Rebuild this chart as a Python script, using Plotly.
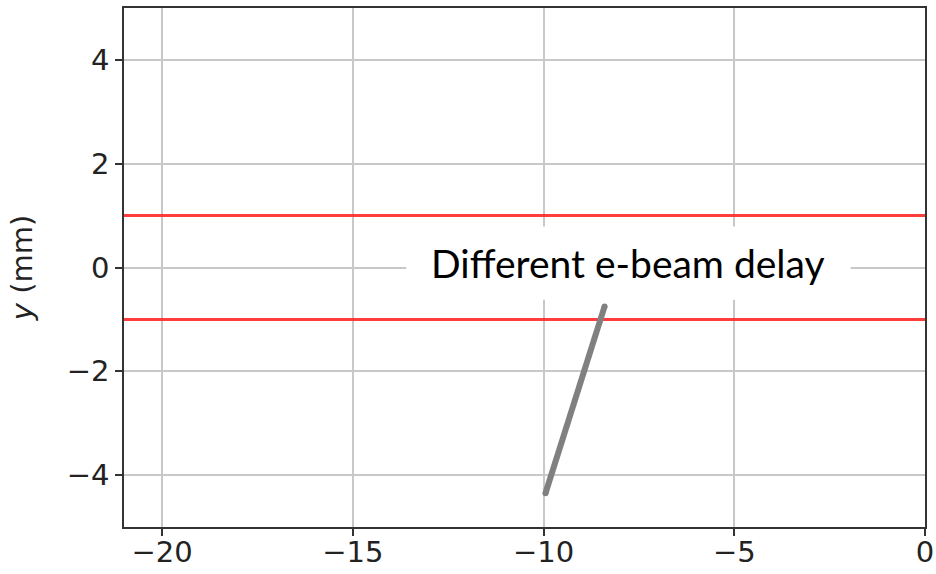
import plotly.graph_objects as go

# Axis extents and ticks
x_range = [-21, 0]
y_range = [-5, 5]
x_ticks = [-20, -15, -10, -5, 0]
y_ticks = [-4, -2, 0, 2, 4]

# Aperture limits (mm)
aperture_y = [1, -1]

# Beam centroid track for different e-beam delays
track_x = [-9.95, -8.4]
track_y = [-4.35, -0.75]

# Label box extent (data units)
label_box_x = [-13.6, -1.95]
label_box_y = [-0.62, 0.79]
label_text = "Different e-beam delay"

fig = go.Figure()

for yv in aperture_y:
    fig.add_trace(go.Scatter(
        x=x_range, y=[yv, yv], mode="lines",
        line=dict(color="rgba(255,40,40,0.9)", width=3),
        showlegend=False, hoverinfo="skip",
    ))

fig.add_trace(go.Scatter(
    x=track_x, y=track_y, mode="lines+markers",
    line=dict(color="#808080", width=6),
    marker=dict(color="#808080", size=6),
    showlegend=False,
))

fig.add_shape(
    type="rect", xref="x", yref="y",
    x0=label_box_x[0], x1=label_box_x[1],
    y0=label_box_y[0], y1=label_box_y[1],
    fillcolor="white", line=dict(width=0), layer="between",
)
fig.add_annotation(
    x=(label_box_x[0] + label_box_x[1]) / 2,
    y=(label_box_y[0] + label_box_y[1]) / 2,
    xref="x", yref="y", text=label_text, showarrow=False,
    font=dict(family="Lato", size=39, color="black"),
)

axis_common = dict(
    showgrid=True, gridcolor="#c8c8c8", gridwidth=1.5,
    showline=True, linecolor="#333333", linewidth=1.5, mirror=True,
    ticks="outside", ticklen=7, tickwidth=1.5, tickcolor="#333333",
    zeroline=False, automargin=False,
    tickfont=dict(family="DejaVu Sans", size=29, color="#222222"),
)

fig.update_xaxes(range=x_range, tickvals=x_ticks,
                 ticktext=[str(v).replace("-", "\u2212") for v in x_ticks],
                 ticklabelstandoff=-9,
                 **axis_common)
fig.update_yaxes(range=y_range, tickvals=y_ticks,
                 ticktext=[str(v).replace("-", "\u2212") for v in y_ticks],
                 title=dict(text="<i>y</i> (mm)", standoff=26,
                            font=dict(family="DejaVu Sans", size=29, color="#222222")),
                 **axis_common)

fig.update_layout(
    width=936, height=574,
    margin=dict(l=124, r=11, t=8, b=47),
    paper_bgcolor="white", plot_bgcolor="white",
)

fig.write_html("out.html")
